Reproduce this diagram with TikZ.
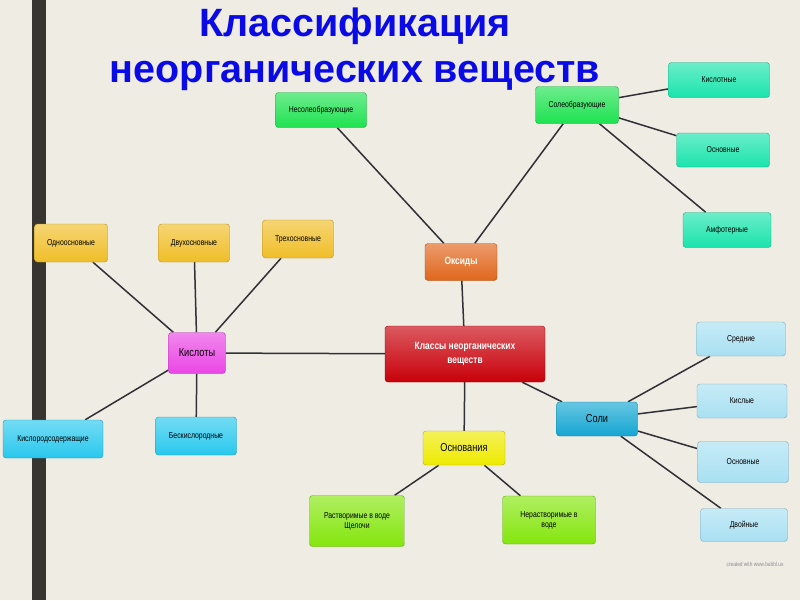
\documentclass[tikz,border=0pt]{standalone}
\usepackage{xcolor}
\usepackage{fontspec}
\setmainfont{Liberation Sans}
\newfontfamily\narrowfont[FakeStretch=0.8]{Liberation Sans}
\usepackage{tikz}

\definecolor{paper}{HTML}{EFECE4}
\definecolor{titleblue}{HTML}{0A0AE6}
\definecolor{linkgray}{HTML}{303036}
\definecolor{cRoot}{HTML}{C8000A}
\definecolor{cOxide}{HTML}{E0661C}
\definecolor{cSaltform}{HTML}{1EE250}
\definecolor{cOxtype}{HTML}{1AE4AC}
\definecolor{cAcid}{HTML}{EA46E4}
\definecolor{cBasic}{HTML}{F0BE28}
\definecolor{cAcidO}{HTML}{28C8EE}
\definecolor{cBase}{HTML}{EEEA00}
\definecolor{cLime}{HTML}{84E60C}
\definecolor{cSalt}{HTML}{14A6D2}
\definecolor{cSaltKind}{HTML}{A8E0F2}

\pgfdeclarelayer{paperlayer}
\pgfdeclarelayer{links}
\pgfsetlayers{paperlayer,links,main}

\begin{document}
\begin{tikzpicture}[
    x=1pt, y=-1pt,
    box/.style={rectangle, rounded corners=3pt, draw=#1!75!black, thin,
        top color=#1!65!white, bottom color=#1, align=center,
        font=\narrowfont\fontsize{8.6}{10}\selectfont, inner sep=2pt},
    bigbox/.style={box=#1, font=\narrowfont\fontsize{11.5}{13}\selectfont},
    link/.style={draw=linkgray, line width=1.5pt},
    heading/.style={font=\bfseries\fontsize{39.5}{46}\selectfont, text=titleblue, align=center}
]
    \useasboundingbox (0,0) rectangle (800,600);
    \begin{pgfonlayer}{paperlayer}
        \fill[paper] (0,0) rectangle (800,600);
        \fill[black!90!yellow] (32,0) rectangle (46,600);
    \end{pgfonlayer}

    % Title
    \node[heading] (title) at (355,49) {Классификация\\неорганических веществ};

    % Root
    \node[box=cRoot, minimum width=160, minimum height=56, text=white,
          font=\narrowfont\bfseries\fontsize{10.5}{14}\selectfont] (root) at (465,354)
        {Классы неорганических\\веществ};

    % Oxides
    \node[bigbox=cOxide, minimum width=72, minimum height=37, text=white,
          font=\narrowfont\bfseries\fontsize{10.5}{12}\selectfont] (oxides) at (461,262) {Оксиды};
    \node[box=cSaltform, minimum width=91, minimum height=35] (nonsalt) at (321,110) {Несолеобразующие};
    \node[box=cSaltform, minimum width=83, minimum height=37] (saltform) at (577,105) {Солеобразующие};
    \node[box=cOxtype, minimum width=101, minimum height=35] (acidox) at (719,80) {Кислотные};
    \node[box=cOxtype, minimum width=93, minimum height=34] (basicox) at (723,150) {Основные};
    \node[box=cOxtype, minimum width=88, minimum height=35] (amphox) at (727,230) {Амфотерные};

    % Acids
    \node[bigbox=cAcid, minimum width=57, minimum height=41] (acids) at (197,353) {Кислоты};
    \node[box=cBasic, minimum width=73, minimum height=38] (mono) at (71,243) {Одноосновные};
    \node[box=cBasic, minimum width=71, minimum height=38] (di) at (194,243) {Двухосновные};
    \node[box=cBasic, minimum width=71, minimum height=38] (tri) at (298,239) {Трехосновные};
    \node[box=cAcidO, minimum width=100, minimum height=38] (oxyacid) at (53,439) {Кислородсодержащие};
    \node[box=cAcidO, minimum width=81, minimum height=38] (nooxy) at (196,436) {Бескислородные};

    % Bases
    \node[bigbox=cBase, minimum width=82, minimum height=34] (bases) at (464,448) {Основания};
    \node[box=cLime, minimum width=95, minimum height=51] (alkali) at (357,521) {Растворимые в воде\\Щелочи};
    \node[box=cLime, minimum width=93, minimum height=48] (insol) at (549,520) {Нерастворимые в\\воде};

    % Salts
    \node[bigbox=cSalt, minimum width=81, minimum height=34] (salts) at (597,419) {Соли};
    \node[box=cSaltKind, minimum width=89, minimum height=34] (middle) at (741,339) {Средние};
    \node[box=cSaltKind, minimum width=90, minimum height=34] (acidic) at (742,401) {Кислые};
    \node[box=cSaltKind, minimum width=91, minimum height=41] (basic) at (743,462) {Основные};
    \node[box=cSaltKind, minimum width=87, minimum height=33] (double) at (744,525) {Двойные};

    \node[text=black!45, font=\narrowfont\fontsize{6}{7}\selectfont] (mark) at (755,564) {created with www.bubbl.us};

    % Links
    \begin{pgfonlayer}{links}
        \foreach \a/\b in {root/oxides, root/acids, root/bases, root/salts,
                           oxides/nonsalt, oxides/saltform,
                           saltform/acidox, saltform/basicox, saltform/amphox,
                           acids/mono, acids/di, acids/tri, acids/oxyacid, acids/nooxy,
                           bases/alkali, bases/insol,
                           salts/middle, salts/acidic, salts/basic, salts/double}
            \draw[link] (\a) -- (\b);
    \end{pgfonlayer}
\end{tikzpicture}
\end{document}
